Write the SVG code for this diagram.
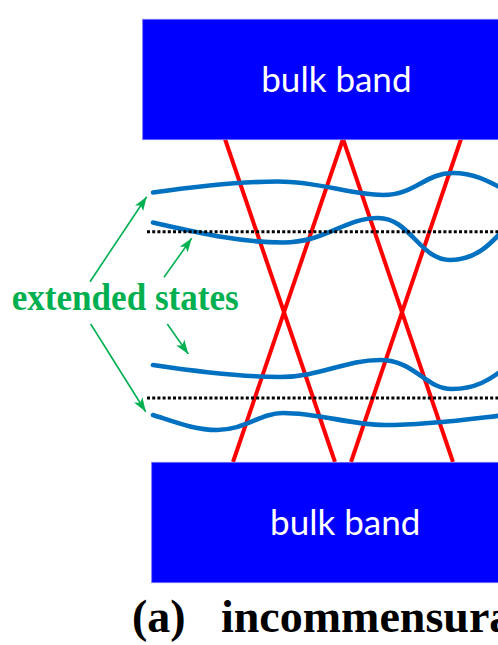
<svg xmlns="http://www.w3.org/2000/svg" width="498" height="645" viewBox="0 0 498 645">
  <style>
    .band { fill: #0000FF; stroke: #7070ff; stroke-width: 0.8; }
    .bandtxt { font-family: Lato, "Open Sans", sans-serif; font-size: 35px; fill: #ffffff; text-anchor: middle; }
    .red { stroke: #FF0000; stroke-width: 4; fill: none; }
    .blue { stroke: #0070C0; stroke-width: 4.6; fill: none; stroke-linecap: round; }
    .dot { stroke: #000000; stroke-width: 3; stroke-dasharray: 3 2.2; fill: none; }
    .arrow { stroke: #00B050; stroke-width: 1.6; fill: none; marker-end: url(#head); }
    .green { font-family: "Liberation Serif", "Times New Roman", serif; font-weight: bold; font-size: 37px; fill: #00B050; }
    .cap { font-family: "Liberation Serif", "Times New Roman", serif; font-weight: bold; font-size: 46px; fill: #000000; }
  </style>
  <defs>
    <marker id="head" markerUnits="userSpaceOnUse" markerWidth="15" markerHeight="11" refX="14" refY="5" orient="auto">
      <path d="M0,0 L14,5 L0,10 L3.5,5 z" fill="#00B050"/>
    </marker>
  </defs>

  <g id="connectors">
    <g id="red-bands">
      <line class="red" x1="225" y1="139" x2="335" y2="462"/>
      <line class="red" x1="343" y1="139" x2="233" y2="462"/>
      <line class="red" x1="343" y1="139" x2="453" y2="462"/>
      <line class="red" x1="461" y1="139" x2="351" y2="462"/>
    </g>
    <g id="blue-states">
      <path class="blue" d="M153,192.5 C200,186 240,181.5 278,181.5 C320,181.5 350,195 383,195 C415,195 425,173 453,173 C475,173 490,182 505,190"/>
      <path class="blue" d="M153,222.5 C200,233 240,242.5 283,242.5 C325,242.5 345,218 378,218 C410,218 420,260 450,260 C475,260 490,245 505,228"/>
      <path class="blue" d="M153,365 C200,372 240,377 280,377 C320,377 345,360 380,360 C415,360 425,389 452,389 C475,389 490,380 505,368"/>
      <path class="blue" d="M153,415 C175,422 195,430 217,430 C245,430 260,413 283,413 C320,413 350,425 385,425 C430,425 470,419 505,415"/>
    </g>
    <g id="fermi-levels">
      <line class="dot" x1="147" y1="231.7" x2="498" y2="231.7"/>
      <line class="dot" x1="147" y1="398" x2="498" y2="398"/>
    </g>
    <g id="arrows">
      <line class="arrow" x1="90" y1="281.7" x2="146.7" y2="196.7"/>
      <line class="arrow" x1="164" y1="277.3" x2="191.7" y2="238.3"/>
      <line class="arrow" x1="167.3" y1="324" x2="188.3" y2="354"/>
      <line class="arrow" x1="90.7" y1="324" x2="145.7" y2="411.7"/>
    </g>
  </g>

  <g id="top-band">
    <rect class="band" x="142.7" y="19.3" width="370" height="120.4"/>
    <text class="bandtxt" x="336.4" y="91.7">bulk band</text>
  </g>
  <g id="bottom-band">
    <rect class="band" x="151.7" y="462.3" width="360" height="120.4"/>
    <text class="bandtxt" x="345.2" y="535">bulk band</text>
  </g>

  <g id="extended-states-label">
    <text class="green" x="11.7" y="309.5" textLength="227" lengthAdjust="spacingAndGlyphs">extended states</text>
  </g>

  <g id="caption">
    <text class="cap" x="132" y="632">(a)</text>
    <text class="cap" x="221" y="632">incommensura</text>
  </g>
</svg>
